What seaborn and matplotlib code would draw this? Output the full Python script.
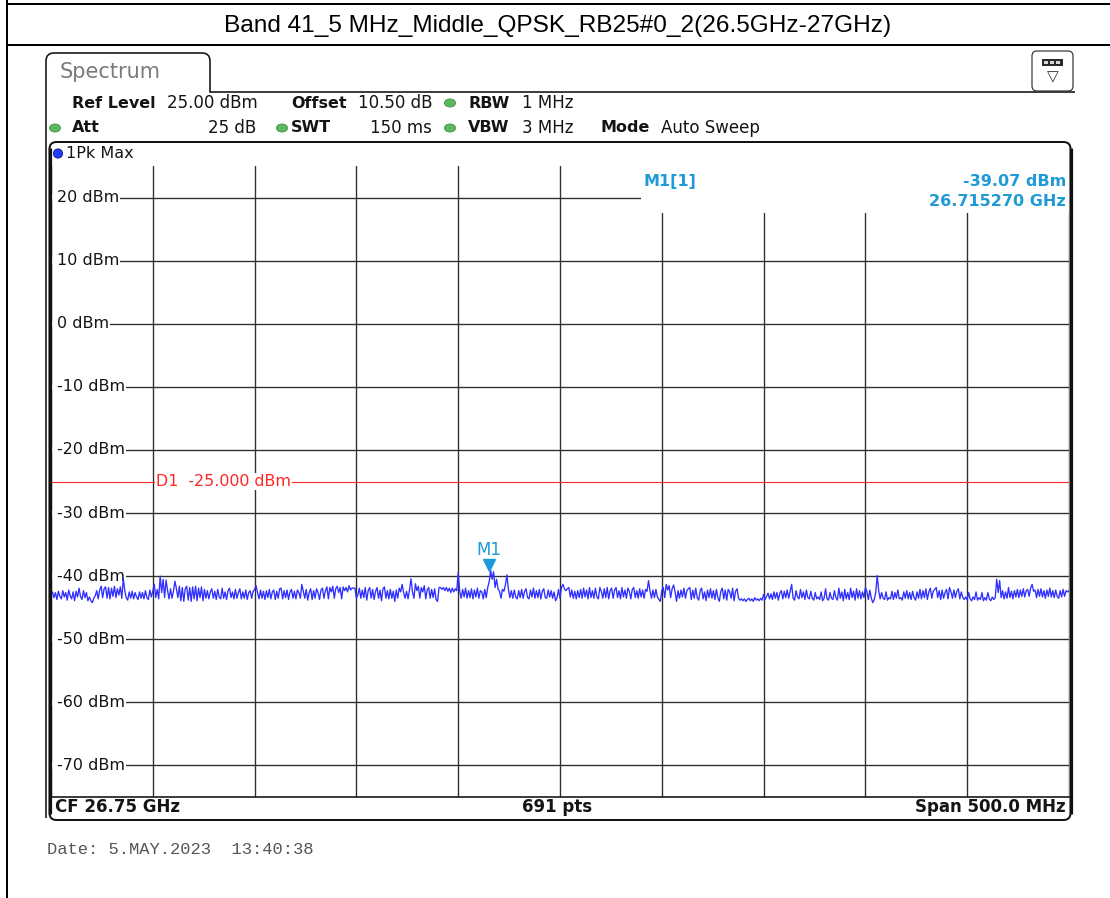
import numpy as np
import pandas as pd
import matplotlib
matplotlib.use("Agg")
import matplotlib.pyplot as plt
from matplotlib.patches import FancyBboxPatch, Rectangle, Ellipse, Circle, PathPatch
from matplotlib.path import Path
from matplotlib.transforms import offset_copy
import seaborn as sns

# ---- measurement settings -------------------------------------------------
TITLE = "Band 41_5 MHz_Middle_QPSK_RB25#0_2(26.5GHz-27GHz)"
CF_GHZ = 26.75
SPAN_GHZ = 0.5
N_PTS = 691
REF_LEVEL = 25.0
DB_PER_DIV = 10.0
N_XDIV = 10
LIMIT_DBM = -25.0
M1_FREQ = 26.715270
M1_LEVEL = -39.07
Y_TICKS = [20, 10, 0, -10, -20, -30, -40, -50, -60, -70]

SETTINGS_ROW1 = [("Ref Level", "25.00 dBm"), ("Offset", "10.50 dB"), ("RBW", "1 MHz")]
SETTINGS_ROW2 = [("Att", "25 dB"), ("SWT", "150 ms"), ("VBW", "3 MHz"), ("Mode", "Auto Sweep")]
TRACE_NAME = "1Pk Max"
FOOTER = ["CF 26.75 GHz", "691 pts", "Span 500.0 MHz"]
DATE_TEXT = "Date: 5.MAY.2023  13:40:38"

# Peak-hold trace, 691 sweep points (dBm)
trace_dbm = [
    -43.0, -42.5, -43.4, -42.6, -43.7, -42.4, -43.2, -43.6, -42.3, -43.3,
    -42.6, -43.8, -42.2, -43.1, -43.6, -42.5, -43.9, -42.4, -43.3, -41.9,
    -43.2, -43.7, -42.3, -43.4, -42.6, -43.9, -43.3, -43.9, -44.2, -43.5,
    -43.1, -42.3, -43.6, -42.2, -41.6, -43.4, -42.0, -41.7, -43.5, -41.8,
    -43.6, -41.9, -43.2, -41.6, -43.4, -42.0, -43.0, -41.7, -43.5, -40.4,
    -42.3, -43.4, -43.8, -42.5, -43.5, -42.4, -43.6, -42.6, -43.3, -43.7,
    -42.5, -43.5, -42.6, -43.6, -42.3, -43.4, -43.7, -42.2, -43.3, -42.4,
    -41.3, -43.4, -42.1, -43.6, -40.0, -42.6, -40.5, -43.4, -40.6, -42.3,
    -43.6, -42.0, -43.5, -42.4, -40.8, -42.0, -43.4, -41.6, -43.9, -41.8,
    -44.0, -42.0, -41.6, -43.8, -41.8, -44.0, -41.7, -43.6, -41.6, -43.9,
    -41.9, -43.4, -41.7, -43.9, -42.1, -43.5, -42.3, -43.6, -42.5, -42.0,
    -43.5, -42.4, -43.7, -42.1, -43.3, -43.6, -41.9, -43.5, -42.5, -43.7,
    -42.3, -41.9, -43.4, -42.5, -43.6, -42.1, -43.5, -42.6, -42.0, -43.6,
    -42.5, -43.5, -42.2, -43.7, -42.6, -42.3, -43.5, -42.4, -42.1, -41.5,
    -42.6, -43.6, -42.2, -43.5, -42.4, -43.7, -42.3, -43.4, -42.1, -43.6,
    -42.5, -42.2, -43.7, -42.4, -43.5, -42.0, -41.9, -43.6, -42.3, -43.4,
    -42.2, -43.7, -42.5, -42.1, -43.5, -42.4, -43.6, -42.2, -42.6, -43.5,
    -41.3, -42.4, -43.5, -42.1, -43.8, -42.6, -42.0, -43.7, -42.3, -43.5,
    -42.0, -42.6, -43.7, -42.2, -41.9, -43.5, -42.3, -41.7, -43.6, -41.8,
    -42.5, -41.6, -43.5, -42.0, -41.6, -42.6, -41.8, -43.6, -41.7, -42.3,
    -41.8, -42.5, -41.5, -42.2, -41.9, -41.9, -41.9, -43.5, -43.0, -41.9,
    -43.5, -42.2, -43.4, -41.8, -43.8, -42.3, -41.8, -43.5, -42.1, -43.7,
    -42.4, -41.8, -43.5, -42.2, -43.9, -42.0, -41.7, -43.5, -42.3, -43.6,
    -42.1, -43.5, -42.4, -44.0, -42.2, -43.5, -41.9, -42.5, -41.3, -42.6,
    -43.5, -42.4, -43.6, -42.2, -40.4, -42.5, -43.5, -41.2, -42.3, -41.6,
    -43.5, -41.8, -42.5, -41.5, -43.6, -42.2, -41.8, -43.5, -42.1, -43.4,
    -42.0, -43.7, -44.0, -41.8, -41.8, -42.1, -41.8, -42.3, -41.8, -42.4,
    -41.9, -42.6, -41.9, -42.5, -42.0, -42.3, -39.4, -42.4, -43.5, -42.1,
    -43.3, -41.9, -43.5, -42.3, -43.4, -42.0, -43.6, -42.2, -43.3, -41.9,
    -43.5, -42.3, -42.5, -43.6, -42.1, -43.4, -41.8, -40.9, -39.07, -40.5,
    -39.3, -41.8, -40.5, -42.0, -42.4, -43.5, -42.1, -42.4, -41.4, -39.8,
    -42.0, -43.4, -42.3, -43.5, -42.2, -43.3, -43.6, -42.3, -43.4, -42.1,
    -43.5, -42.4, -42.0, -43.4, -43.6, -42.2, -43.3, -41.9, -43.5, -42.3,
    -43.4, -42.1, -43.6, -42.4, -42.0, -43.4, -43.5, -42.2, -43.3, -42.3,
    -43.5, -42.5, -43.9, -43.4, -42.1, -43.5, -41.8, -41.3, -42.0, -42.3,
    -42.0, -41.8, -43.3, -42.2, -43.5, -42.4, -43.6, -42.3, -43.4, -42.1,
    -43.5, -41.9, -43.3, -42.2, -43.6, -41.8, -43.4, -42.3, -43.5, -41.9,
    -43.3, -43.6, -41.8, -42.4, -43.5, -42.0, -43.4, -41.8, -43.6, -42.3,
    -41.9, -43.5, -42.2, -41.8, -43.4, -42.3, -43.6, -41.8, -43.3, -42.2,
    -43.5, -41.9, -42.4, -43.6, -42.1, -41.8, -43.4, -42.3, -43.5, -42.0,
    -43.3, -42.2, -43.5, -42.1, -42.4, -40.7, -42.3, -43.5, -42.2, -43.4,
    -42.1, -43.3, -43.7, -44.0, -42.3, -41.8, -43.4, -41.3, -42.2, -41.5,
    -43.4, -42.0, -41.4, -42.5, -44.0, -42.3, -43.5, -42.2, -43.3, -41.9,
    -43.5, -42.3, -42.0, -41.8, -43.7, -42.2, -43.5, -41.9, -43.4, -43.8,
    -42.3, -41.9, -43.6, -42.5, -43.9, -42.2, -43.4, -42.0, -43.5, -42.3,
    -43.7, -42.1, -43.4, -44.0, -42.4, -41.9, -43.6, -42.2, -43.8, -42.1,
    -42.5, -43.5, -41.9, -43.9, -42.4, -42.0, -43.5, -43.8, -43.6, -43.9,
    -43.6, -44.0, -43.7, -43.5, -43.9, -43.6, -44.0, -43.4, -43.8, -43.6,
    -43.9, -43.5, -43.8, -42.9, -43.7, -43.2, -42.7, -43.6, -42.8, -43.7,
    -42.5, -43.5, -42.6, -43.8, -42.7, -42.3, -43.6, -42.4, -43.4, -42.2,
    -43.5, -42.4, -41.3, -43.5, -43.8, -42.3, -43.3, -43.6, -42.1, -43.4,
    -42.5, -43.7, -42.2, -43.4, -43.6, -42.4, -43.5, -43.8, -42.6, -43.6,
    -43.3, -43.7, -42.5, -43.9, -43.5, -42.0, -43.6, -43.8, -42.6, -43.5,
    -43.7, -42.3, -43.4, -43.8, -41.9, -43.5, -42.5, -43.9, -42.1, -43.6,
    -42.6, -43.7, -41.9, -43.4, -42.4, -43.8, -42.0, -43.5, -42.3, -43.6,
    -42.5, -43.4, -41.8, -42.4, -43.7, -42.2, -43.5, -44.2, -43.7, -42.6,
    -39.9, -42.3, -43.6, -42.6, -43.5, -43.7, -42.5, -43.8, -43.4, -43.6,
    -42.4, -43.7, -42.6, -43.5, -42.2, -43.6, -43.4, -43.8, -42.5, -43.5,
    -42.3, -43.6, -42.6, -43.7, -42.4, -43.4, -43.8, -42.5, -43.5, -42.1,
    -43.6, -42.3, -43.4, -42.0, -43.7, -42.5, -41.9, -43.5, -42.4, -42.1,
    -41.8, -43.4, -42.3, -43.7, -42.2, -43.5, -42.6, -42.1, -43.6, -41.8,
    -42.5, -43.5, -42.2, -43.4, -42.4, -42.0, -43.6, -42.5, -43.4, -43.7,
    -43.3, -43.8, -42.6, -43.6, -43.9, -43.3, -43.7, -42.5, -43.8, -43.4,
    -43.7, -42.6, -43.9, -43.4, -43.8, -42.6, -43.6, -43.9, -43.3, -43.7,
    -43.4, -40.5, -42.6, -40.7, -43.4, -42.3, -43.6, -42.5, -43.5, -41.8,
    -43.4, -42.4, -43.6, -42.3, -43.3, -42.1, -43.4, -42.2, -43.2, -42.0,
    -43.3, -42.3, -42.1, -43.2, -41.9, -41.3, -42.4, -42.2, -43.4, -42.1,
    -43.2, -42.0, -43.3, -42.3, -43.5, -42.2, -43.2, -41.9, -43.3, -42.3,
    -43.4, -42.2, -43.2, -43.5, -42.3, -43.3, -42.1, -43.2, -42.3, -42.5,
    -42.3,
]

# ---- colours --------------------------------------------------------------
TRACE_C = "#2f2fff"
MARKER_C = "#1f9ad8"
LIMIT_C = "#ff2626"
GRID_C = "#2e2e2e"
TEXT_C = "#141414"

sns.set_theme(style="white")
plt.rcParams["font.family"] = ["DejaVu Sans"]

W, H = 1110, 898
fig = plt.figure(figsize=(W / 100, H / 100), dpi=100)
fig.patch.set_facecolor("white")

# full-figure layer in pixel coordinates for the instrument frame and labels
bg = fig.add_axes([0, 0, 1, 1])
bg.set_xlim(0, W)
bg.set_ylim(H, 0)
bg.axis("off")

PX = 0.72  # one pixel in points


def px_rect(x0, y0, x1, y1):
    return [x0 / W, 1 - y1 / H, (x1 - x0) / W, (y1 - y0) / H]


# outer table and title
bg.plot([7, 7], [0, H], color="black", lw=2 * PX, solid_capstyle="butt")
bg.plot([7, W], [4, 4], color="black", lw=2 * PX)
bg.plot([7, W], [45, 45], color="black", lw=2 * PX)
bg.text(558, 26, TITLE, ha="center", va="center", fontsize=17.6,
        family=["Liberation Sans Narrow", "Liberation Sans", "DejaVu Sans"], color="black")

# spectrum tab outline
tab = Path(
    [(46, 818), (46, 61), (46, 53), (54, 53), (202, 53), (210, 53), (210, 61),
     (210, 92), (1075, 92)],
    [Path.MOVETO, Path.LINETO, Path.CURVE3, Path.CURVE3, Path.LINETO, Path.CURVE3,
     Path.CURVE3, Path.LINETO, Path.LINETO],
)
bg.add_patch(PathPatch(tab, fill=False, lw=1.6 * PX, edgecolor="#111111"))
bg.text(60, 72, "Spectrum", ha="left", va="center", fontsize=15, color="#7a7a7a")

# menu icon at the top right
bg.add_patch(FancyBboxPatch((1032, 51), 41, 40, boxstyle="round,pad=0,rounding_size=5",
                            fill=True, facecolor="white", edgecolor="#333333", lw=1.2 * PX))
bg.add_patch(Rectangle((1042, 59), 21, 7, facecolor="#2a2a2a", edgecolor="none"))
for bx in (1044, 1050, 1056):
    bg.add_patch(Rectangle((bx, 61), 4, 3, facecolor="#d8d8d8", edgecolor="none"))
bg.text(1052.5, 77, "\u25bd", ha="center", va="center", fontsize=11, color="#333333")


def led(x, y):
    bg.add_patch(Ellipse((x, y), 11, 8, facecolor="#5cb85c", edgecolor="#3f8f3f", lw=0.6))


# measurement settings
FS_B, FS_N = 11.5, 12
row1_x = [(72, 167), (291, 358), (468, 522)]
for (lab, val), (xl, xv) in zip(SETTINGS_ROW1, row1_x):
    bg.text(xl, 103, lab, ha="left", va="center", fontsize=FS_B, weight="bold", color=TEXT_C)
    bg.text(xv, 103, val, ha="left", va="center", fontsize=FS_N, color=TEXT_C)
led(450, 103)

row2 = [(72, 256, "right"), (291, 432, "right"), (468, 522, "left"), (600, 661, "left")]
for (lab, val), (xl, xv, hv) in zip(SETTINGS_ROW2, row2):
    bg.text(xl, 128, lab, ha="left", va="center", fontsize=FS_B, weight="bold", color=TEXT_C)
    bg.text(xv, 128, val, ha=hv, va="center", fontsize=FS_N, color=TEXT_C)
for lx in (55, 282, 450):
    led(lx, 128)

# ---- graticule and trace ---------------------------------------------------
f_start = CF_GHZ - SPAN_GHZ / 2
f_stop = CF_GHZ + SPAN_GHZ / 2
y_top = REF_LEVEL
y_bot = REF_LEVEL - 10 * DB_PER_DIV

ax = fig.add_axes(px_rect(51, 166, 1069, 797))
ax.set_facecolor("white")

freqs = f_start + np.arange(N_PTS) * SPAN_GHZ / (N_PTS - 1)
df = pd.DataFrame({"freq": freqs, "level": trace_dbm})
sns.lineplot(data=df, x="freq", y="level", ax=ax, color=TRACE_C, lw=0.95,
             estimator=None, sort=False, zorder=5)

ax.set_xlim(f_start, f_stop)
ax.set_ylim(y_bot, y_top)
ax.set_xticks(np.linspace(f_start, f_stop, N_XDIV + 1))
ax.set_yticks(Y_TICKS)
ax.tick_params(length=0, labelbottom=False, labelleft=False)
ax.set_xlabel("")
ax.set_ylabel("")
ax.grid(True, color=GRID_C, lw=1.35 * PX)
ax.set_axisbelow(True)
for side in ("top", "left", "right"):
    ax.spines[side].set_visible(False)
ax.spines["bottom"].set_color("#111111")
ax.spines["bottom"].set_linewidth(1.6 * PX)

# marker readout panel in the top-right corner
FS_M = 11.5
box_f0 = f_start + (641 - 51) / 1018 * SPAN_GHZ
box_y0 = y_top - 47 / 631 * (y_top - y_bot)
ax.add_patch(Rectangle((box_f0, box_y0), f_stop - box_f0, y_top - box_y0,
                       facecolor="white", edgecolor="none", zorder=1))
ax.text(box_f0 + 0.001, y_top - 2.4, "M1[1]", ha="left", va="center", fontsize=FS_M,
        weight="bold", color=MARKER_C, zorder=6)
ax.text(f_stop - 0.0015, y_top - 2.4, f"{M1_LEVEL:.2f} dBm", ha="right", va="center",
        fontsize=FS_M, weight="bold", color=MARKER_C, zorder=6)
ax.text(f_stop - 0.0015, y_top - 5.6, f"{M1_FREQ:.6f} GHz", ha="right", va="center",
        fontsize=FS_M, weight="bold", color=MARKER_C, zorder=6)

# level labels inside the graticule; the grid line resumes right after the text
for v in Y_TICKS:
    ax.add_patch(Rectangle((0, v - 0.5), 8 / 1018, 1.0, transform=ax.get_yaxis_transform(),
                           facecolor="white", edgecolor="none", zorder=3))
    ax.text(6 / 1018, v, f"{v} dBm", transform=ax.get_yaxis_transform(), ha="left",
            va="center", fontsize=11.5, color=TEXT_C, zorder=4,
            bbox=dict(boxstyle="square,pad=0.05", facecolor="white", edgecolor="none"))

# display line D1
ax.axhline(LIMIT_DBM, color=LIMIT_C, lw=1.1 * PX, zorder=2.5)
ax.text(f_start + 105 / 1018 * SPAN_GHZ, LIMIT_DBM, f"D1  {LIMIT_DBM:.3f} dBm", ha="left",
        va="center", fontsize=11.4, color=LIMIT_C, zorder=4,
        bbox=dict(facecolor="white", edgecolor="none", pad=0.4))

# marker M1
ax.plot([M1_FREQ], [M1_LEVEL], marker="v", ms=8, color=MARKER_C, lw=0,
        transform=offset_copy(ax.transData, fig=fig, x=0, y=5, units="dots"), zorder=6)
ax.text(M1_FREQ, M1_LEVEL, "M1", ha="center", va="center", fontsize=12, color=MARKER_C,
        transform=offset_copy(ax.transData, fig=fig, x=0, y=20, units="dots"), zorder=6)

# ---- frame on top of the graticule edges -----------------------------------
top = fig.add_axes([0, 0, 1, 1], facecolor="none")
top.set_xlim(0, W)
top.set_ylim(H, 0)
top.axis("off")
top.add_patch(FancyBboxPatch((49.5, 142), 1021, 678, boxstyle="round,pad=0,rounding_size=7",
                             fill=False, edgecolor="#111111", lw=2 * PX))
top.plot([49.5, 49.5], [148, 814], color="#111111", lw=3.2 * PX, solid_capstyle="butt")
top.plot([1070.5, 1070.5], [148, 814], color="#111111", lw=3.2 * PX, solid_capstyle="butt")

top.add_patch(Circle((58, 153.5), 4.6, facecolor="#1f3cff", edgecolor="#0b1a7a", lw=0.6))
top.text(66, 153.5, TRACE_NAME, ha="left", va="center", fontsize=11.5, color=TEXT_C)

# footer row and date stamp
FS_F = 12
top.text(55, 807, FOOTER[0], ha="left", va="center", fontsize=FS_F, weight="bold", color=TEXT_C)
top.text(557, 807, FOOTER[1], ha="center", va="center", fontsize=FS_F, weight="bold", color=TEXT_C)
top.text(1066, 807, FOOTER[2], ha="right", va="center", fontsize=FS_F, weight="bold", color=TEXT_C)
top.text(47, 849, DATE_TEXT, ha="left", va="center", fontsize=12.3,
         family=["Liberation Mono", "DejaVu Sans Mono"], color="#555555")

fig.savefig("out.png", dpi=100, facecolor="white")
